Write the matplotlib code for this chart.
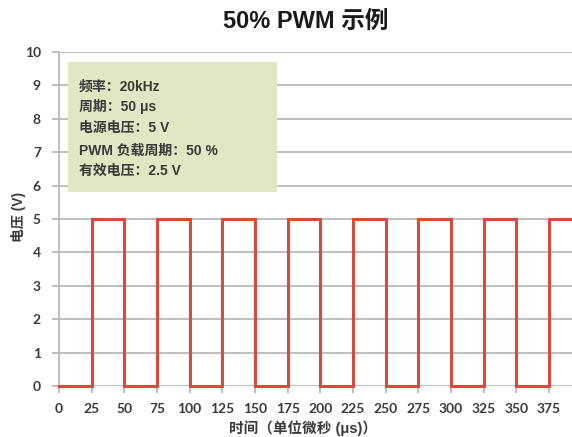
import matplotlib
matplotlib.use("Agg")
import matplotlib.pyplot as plt

FAMILY = ['Liberation Sans', 'Noto Sans CJK SC', 'DejaVu Sans']
plt.rcParams['font.family'] = FAMILY

# Square-wave samples (time in microseconds, voltage in volts)
time_us = [0, 25, 25, 50, 50, 75, 75, 100, 100, 125, 125, 150, 150, 175, 175,
           200, 200, 225, 225, 250, 250, 275, 275, 300, 300, 325, 325, 350,
           350, 375, 375, 400]
voltage_v = [0, 0, 5, 5, 0, 0, 5, 5, 0, 0, 5, 5, 0, 0, 5,
             5, 0, 0, 5, 5, 0, 0, 5, 5, 0, 0, 5, 5,
             0, 0, 5, 5]
x_ticks = [0, 25, 50, 75, 100, 125, 150, 175, 200, 225, 250, 275, 300, 325, 350, 375]
y_ticks = [0, 1, 2, 3, 4, 5, 6, 7, 8, 9, 10]

info_lines = ["频率：20kHz", "周期：50 μs", "电源电压：5 V", "PWM 负载周期：50 %", "有效电压：2.5 V"]

W, H = 572, 437
fig = plt.figure(figsize=(W / 100, H / 100), dpi=100)
ax = fig.add_axes([59 / W, 1 - 386 / H, 1 - 59 / W, (386 - 52) / H])

grid_c = "#b9b9b9"
text_c = "#3a3a3a"

ax.plot(time_us, voltage_v, color="#d94a3c", lw=2.2, solid_joinstyle="miter", zorder=3,
        clip_on=False)

ax.set_xlim(0, (572 - 59) / (490 / 375))
ax.set_ylim(0, 10)
ax.set_yticks(y_ticks)
ax.set_xticks(x_ticks)
ax.grid(axis="y", color=grid_c, lw=1.3)
ax.set_axisbelow(True)
for s in ["top", "right", "bottom"]:
    ax.spines[s].set_visible(False)
ax.spines["left"].set_color(grid_c)
ax.spines["left"].set_linewidth(1.3)
ax.tick_params(axis="y", length=5, width=1.3, color=grid_c, pad=8, labelsize=10,
               labelcolor=text_c)
ax.tick_params(axis="x", length=5, width=1.3, color=grid_c, pad=7, labelsize=10,
               labelcolor=text_c)
for lab in ax.get_xticklabels() + ax.get_yticklabels():
    lab.set_fontfamily(["Lato", "DejaVu Sans"])
    lab.set_fontweight("bold")

# Information box
box_x0, box_x1 = 68, 277
box_y0, box_y1 = 62, 192
fig.patches.append(plt.Rectangle((box_x0 / W, 1 - box_y1 / H), (box_x1 - box_x0) / W,
                                 (box_y1 - box_y0) / H, transform=fig.transFigure,
                                 facecolor="#dfe8c3", edgecolor="none", zorder=5))
line_ys = [87, 107, 128, 151, 171]
for txt, yp in zip(info_lines, line_ys):
    fig.text(79 / W, 1 - yp / H, txt, fontsize=10, fontweight="bold", color=text_c,
             va="center", ha="left", zorder=6)

fig.text(306 / W, 1 - 21 / H, "50% PWM 示例", fontsize=17, fontweight="bold",
         color="#1a1a1a", ha="center", va="center")
fig.text(18 / W, 1 - 217 / H, "电压 (V)", fontsize=10, fontweight="bold", color=text_c,
         rotation=90, ha="center", va="center")
fig.text(303 / W, 1 - 428 / H, "时间（单位微秒 (μs)）", fontsize=10.5, fontweight="bold",
         color=text_c, ha="center", va="center")

fig.savefig("out.png", dpi=100)
